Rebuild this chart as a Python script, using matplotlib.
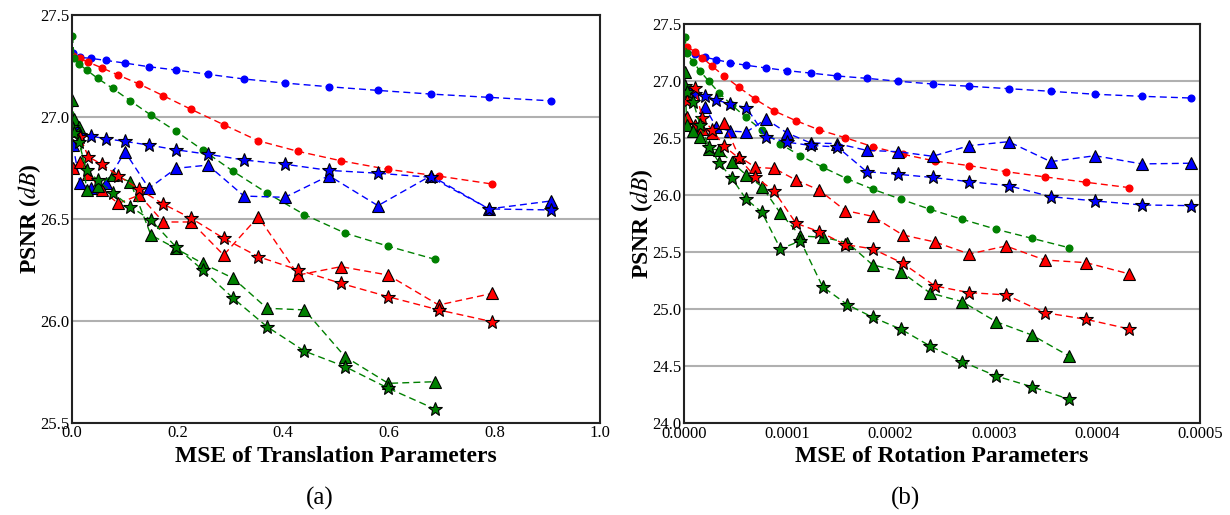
import matplotlib.pyplot as plt
from matplotlib.ticker import FormatStrFormatter, MultipleLocator

plt.rcParams['font.family'] = ['Liberation Serif', 'DejaVu Serif']
plt.rcParams['mathtext.fontset'] = 'stix'

# ---- (a) translation ----
trans_x_blue = [0.002, 0.0152, 0.0360, 0.0644, 0.1004, 0.1458, 0.1970, 0.2576,
                0.3258, 0.4034, 0.4867, 0.5795, 0.6799, 0.7898, 0.9072]
trans_x_red = [0.002, 0.0152, 0.0309, 0.0563, 0.0877, 0.1275, 0.1729, 0.2259,
               0.2873, 0.3528, 0.4286, 0.5095, 0.5985, 0.6945, 0.7960]
trans_x_green = [0.001, 0.0038, 0.0127, 0.0278, 0.0487, 0.0771, 0.1104, 0.1496,
                 0.1964, 0.2475, 0.3055, 0.3693, 0.4403, 0.5170, 0.5991, 0.6875]

trans_blue_circ = [27.31, 27.291, 27.286, 27.276, 27.263, 27.245, 27.229, 27.208,
                   27.185, 27.165, 27.147, 27.129, 27.111, 27.095, 27.078]
trans_blue_tri = [26.86, 26.674, 26.649, 26.674, 26.828, 26.649, 26.747, 26.763,
                  26.611, 26.605, 26.711, 26.564, 26.711, 26.548, 26.587]
trans_blue_star = [26.94, 26.91, 26.905, 26.892, 26.879, 26.861, 26.838, 26.816,
                   26.788, 26.767, 26.737, 26.723, 26.703, 26.548, 26.543]
trans_red_circ = [27.30, 27.286, 27.267, 27.240, 27.204, 27.160, 27.103, 27.036,
                  26.961, 26.882, 26.830, 26.784, 26.742, 26.709, 26.670]
trans_red_tri = [26.75, 26.78, 26.72, 26.64, 26.575, 26.616, 26.484, 26.484,
                 26.322, 26.51, 26.224, 26.265, 26.224, 26.077, 26.134]
trans_red_star = [26.92, 26.902, 26.804, 26.767, 26.711, 26.644, 26.572, 26.502,
                  26.404, 26.314, 26.249, 26.183, 26.118, 26.053, 25.995]
trans_green_circ = [27.396, 27.29, 27.26, 27.229, 27.188, 27.139, 27.078, 27.008,
                    26.930, 26.837, 26.732, 26.626, 26.520, 26.430, 26.365, 26.301]
trans_green_tri = [27.08, 26.99, 26.95, 26.641, 26.66, 26.714, 26.681, 26.420,
                   26.355, 26.281, 26.208, 26.061, 26.053, 25.824, 25.693, 25.701]
trans_green_star = [26.95, 26.92, 26.877, 26.739, 26.69, 26.627, 26.559, 26.494,
                    26.363, 26.249, 26.110, 25.971, 25.851, 25.775, 25.669, 25.567]

# ---- (b) rotation ----
rot_x_blue = [1.6e-6, 1.04e-5, 2.01e-5, 3.07e-5, 4.43e-5, 6.03e-5, 7.92e-5, 9.96e-5,
              1.224e-4, 1.485e-4, 1.768e-4, 2.075e-4, 2.408e-4, 2.763e-4, 3.145e-4,
              3.552e-4, 3.982e-4, 4.435e-4, 4.913e-4]
rot_x_red = [2.9e-6, 1.04e-5, 1.76e-5, 2.73e-5, 3.88e-5, 5.30e-5, 6.90e-5, 8.73e-5,
             1.083e-4, 1.309e-4, 1.561e-4, 1.827e-4, 2.118e-4, 2.431e-4, 2.763e-4,
             3.119e-4, 3.497e-4, 3.895e-4, 4.315e-4]
rot_x_green = [0.7e-6, 2.3e-6, 8.7e-6, 1.52e-5, 2.39e-5, 3.39e-5, 4.62e-5, 5.98e-5,
               7.53e-5, 9.33e-5, 1.127e-4, 1.342e-4, 1.582e-4, 1.827e-4, 2.101e-4,
               2.383e-4, 2.695e-4, 3.023e-4, 3.368e-4, 3.730e-4]

rot_blue_circ = [27.28, 27.235, 27.21, 27.19, 27.163, 27.14, 27.117, 27.093, 27.072,
                 27.046, 27.026, 27.0, 26.976, 26.956, 26.935, 26.912, 26.886, 26.868, 26.853]
rot_blue_tri = [26.68, 26.60, 26.777, 26.60, 26.563, 26.555, 26.668, 26.547, 26.459,
                26.453, 26.394, 26.382, 26.342, 26.435, 26.470, 26.295, 26.347, 26.275, 26.281]
rot_blue_star = [26.92, 26.89, 26.871, 26.838, 26.80, 26.769, 26.514, 26.466, 26.437,
                 26.424, 26.207, 26.184, 26.156, 26.119, 26.084, 25.988, 25.950, 25.915, 25.909]
rot_red_circ = [27.30, 27.26, 27.207, 27.13, 27.045, 26.947, 26.842, 26.739, 26.654,
                26.573, 26.505, 26.426, 26.36, 26.30, 26.260, 26.207, 26.161, 26.114, 26.067]
rot_red_tri = [26.69, 26.62, 26.58, 26.55, 26.63, 26.34, 26.245, 26.235, 26.134,
               26.045, 25.866, 25.815, 25.652, 25.59, 25.485, 25.555, 25.432, 25.409, 25.310]
rot_red_star = [26.83, 26.94, 26.675, 26.57, 26.43, 26.325, 26.16, 26.035, 25.754,
                25.681, 25.567, 25.53, 25.404, 25.204, 25.146, 25.126, 24.970, 24.912, 24.827]
rot_green_circ = [27.39, 27.245, 27.17, 27.09, 27.0, 26.897, 26.79, 26.684, 26.57, 26.45,
                  26.345, 26.246, 26.143, 26.053, 25.965, 25.877, 25.789, 25.702, 25.623, 25.540]
rot_green_tri = [27.08, 26.62, 26.56, 26.51, 26.41, 26.395, 26.29, 26.18, 26.076, 25.842,
                 25.643, 25.632, 25.585, 25.389, 25.330, 25.143, 25.067, 24.891, 24.775, 24.590]
rot_green_star = [26.96, 26.91, 26.82, 26.62, 26.426, 26.285, 26.149, 25.968, 25.85, 25.53,
                  25.60, 25.197, 25.04, 24.93, 24.825, 24.678, 24.54, 24.415, 24.321, 24.211]

colors = {'blue': '#0000ff', 'red': '#ff0000', 'green': '#008000'}


def draw(ax, xb, xr, xg, data):
    # circles first, then triangles, then stars on top
    for kind in ['circ', 'tri', 'star']:
        for cname, xs in [('blue', xb), ('red', xr), ('green', xg)]:
            ys = data[cname + '_' + kind]
            c = colors[cname]
            if kind == 'circ':
                ax.plot(xs, ys, ls='--', dashes=(5, 3), lw=1.0, color=c,
                        marker='o', ms=4.8, mec=c, mfc=c)
            elif kind == 'tri':
                ax.plot(xs, ys, ls='--', dashes=(5, 3), lw=1.0, color=c,
                        marker='^', ms=9, mec='k', mew=0.8, mfc=c)
            else:
                ax.plot(xs, ys, ls='--', dashes=(5, 3), lw=1.0, color=c,
                        marker='*', ms=10, mec='k', mew=0.8, mfc=c)


fig = plt.figure(figsize=(12.3, 5.15), dpi=100)
ax1 = fig.add_axes([0.0585, 0.1792, 0.4293, 0.7922])
ax2 = fig.add_axes([0.5563, 0.1781, 0.4193, 0.7748])

draw(ax1, trans_x_blue, trans_x_red, trans_x_green, {
    'blue_circ': trans_blue_circ, 'blue_tri': trans_blue_tri, 'blue_star': trans_blue_star,
    'red_circ': trans_red_circ, 'red_tri': trans_red_tri, 'red_star': trans_red_star,
    'green_circ': trans_green_circ, 'green_tri': trans_green_tri, 'green_star': trans_green_star})
draw(ax2, rot_x_blue, rot_x_red, rot_x_green, {
    'blue_circ': rot_blue_circ, 'blue_tri': rot_blue_tri, 'blue_star': rot_blue_star,
    'red_circ': rot_red_circ, 'red_tri': rot_red_tri, 'red_star': rot_red_star,
    'green_circ': rot_green_circ, 'green_tri': rot_green_tri, 'green_star': rot_green_star})

ax1.set_xlim(0, 1.0)
ax1.set_ylim(25.5, 27.5)
ax1.xaxis.set_major_locator(MultipleLocator(0.2))
ax1.yaxis.set_major_locator(MultipleLocator(0.5))
ax1.xaxis.set_major_formatter(FormatStrFormatter('%.1f'))
ax1.set_xlabel('MSE of Translation Parameters', fontsize=17, fontweight='bold', labelpad=3)

ax2.set_xlim(0, 0.0005)
ax2.set_ylim(24.0, 27.5)
ax2.xaxis.set_major_locator(MultipleLocator(0.0001))
ax2.yaxis.set_major_locator(MultipleLocator(0.5))
ax2.xaxis.set_major_formatter(FormatStrFormatter('%.4f'))
ax2.set_xlabel('MSE of Rotation Parameters', fontsize=17, fontweight='bold', labelpad=3)

for ax in [ax1, ax2]:
    ax.yaxis.set_major_formatter(FormatStrFormatter('%.1f'))
    ax.set_ylabel('PSNR ($dB$)', fontsize=17, fontweight='bold', labelpad=-2)
    ax.yaxis.grid(True, color='#b0b0b0', lw=1.5)
    ax.set_axisbelow(True)
    ax.tick_params(length=0, labelsize=12, pad=2)
    for s in ax.spines.values():
        s.set_linewidth(1.5)
        s.set_color('#222222')

fig.text(0.26, 0.02, '(a)', fontsize=18, ha='center')
fig.text(0.736, 0.02, '(b)', fontsize=18, ha='center')

fig.savefig('out.png', dpi=100)
